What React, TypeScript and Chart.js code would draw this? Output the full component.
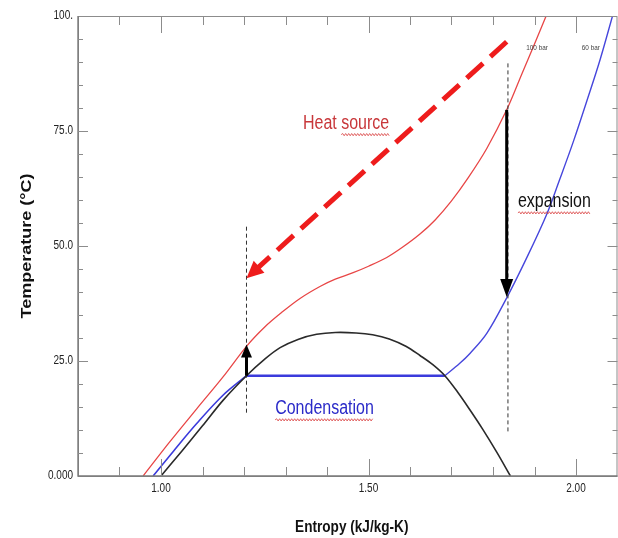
import React, { useEffect, useRef } from 'react';
import { Chart, registerables } from 'chart.js';

Chart.register(...registerables);

// ---- data (entropy kJ/kg-K, temperature °C) ----
const red100Entropy = [0.957, 1.02, 1.086, 1.15, 1.207, 1.25, 1.29, 1.335, 1.383, 1.42, 1.463, 1.5, 1.544, 1.58, 1.624, 1.66, 1.7, 1.74, 1.785, 1.833, 1.87, 1.9, 1.928];
const red100Temp = [0, 7.3, 14.6, 21.6, 28.3, 32.4, 35.5, 38.6, 41.2, 42.8, 44.2, 45.6, 47.5, 49.6, 52.6, 55.6, 59.8, 64.8, 71.2, 79.6, 87.5, 93.9, 100];

const blueLiquidEntropy = [0.981, 1.03, 1.086, 1.15, 1.206];
const blueLiquidTemp = [0, 5.4, 11.4, 17.6, 21.8];
const condensationEntropy = [1.206, 1.684];
const condensationTemp = [21.8, 21.8];
const blueVaporEntropy = [1.684, 1.72, 1.745, 1.785, 1.834, 1.88, 1.929, 1.96, 1.994, 2.03, 2.058, 2.088];
const blueVaporTemp = [21.8, 24.5, 26.7, 31.0, 38.9, 47.2, 56.8, 64.3, 72.8, 82.6, 90.5, 100];

const domeEntropy = [1.0, 1.05, 1.1, 1.15, 1.206, 1.25, 1.287, 1.33, 1.375, 1.42, 1.47, 1.51, 1.55, 1.59, 1.624, 1.655, 1.684, 1.715, 1.745, 1.775, 1.809, 1.842];
const domeTemp = [0, 5.4, 10.9, 16.5, 21.8, 25.4, 27.9, 29.7, 30.8, 31.2, 31.1, 30.7, 29.8, 28.2, 26.2, 24.2, 21.8, 18.2, 14.3, 10.2, 5.2, 0];

const leftGuideEntropy = [1.206, 1.206];
const leftGuideTemp = [54.2, 13.3];
const rightGuideEntropy = [1.836, 1.836];
const rightGuideTemp = [89.7, 9.3];

// arrows: [start, end]
const heatArrowEntropy = [1.833, 1.206];
const heatArrowTemp = [94.4, 43.0];
const upArrowEntropy = [1.206, 1.206];
const upArrowTemp = [21.8, 28.6];
const downArrowEntropy = [1.833, 1.833];
const downArrowTemp = [79.6, 38.9];

// ticks
const xMinorTicks = [0.9, 1.0, 1.1, 1.2, 1.3, 1.4, 1.5, 1.6, 1.7, 1.8, 1.9, 2.0];
const xMajorTicks = [1.0, 1.5, 2.0];
const xTickLabels = ['1.00', '1.50', '2.00'];
const yMinorTicks = [5, 10, 15, 20, 25, 30, 35, 40, 45, 50, 55, 60, 65, 70, 75, 80, 85, 90, 95];
const yMajorTicks = [0, 25, 50, 75, 100];
const yTickLabels = ['0.000', '25.0', '50.0', '75.0', '100.'];

// annotations
const noteLabels = ['Heat source', 'expansion', 'Condensation', '100 bar', '60 bar'];
const noteEntropy = [1.342, 1.86, 1.275, 1.88, 2.014];
const noteTemp = [76.6, 59.6, 14.6, 93.0, 93.0];

const toXY = (xs: number[], ys: number[]) => xs.map((v, i) => ({ x: v, y: ys[i] }));

const SX = 0.8;
const FONT = '"Liberation Sans", Arial, sans-serif';

function drawText(ctx: CanvasRenderingContext2D, text: string, x: number, y: number, font: string, color: string, align: CanvasTextAlign, rotate = 0) {
  ctx.save();
  ctx.translate(x, y);
  ctx.scale(SX, 1);
  if (rotate) ctx.rotate(rotate);
  ctx.font = font;
  ctx.fillStyle = color;
  ctx.textAlign = align;
  ctx.textBaseline = 'middle';
  ctx.fillText(text, 0, 0);
  ctx.restore();
}

function measure(ctx: CanvasRenderingContext2D, text: string, font: string) {
  ctx.save();
  ctx.font = font;
  const w = ctx.measureText(text).width * SX;
  ctx.restore();
  return w;
}

function wavy(ctx: CanvasRenderingContext2D, x0: number, x1: number, y: number) {
  ctx.save();
  ctx.strokeStyle = '#d83a3a';
  ctx.lineWidth = 0.8;
  ctx.beginPath();
  ctx.moveTo(x0, y);
  let up = true;
  for (let x = x0 + 1.5; x <= x1; x += 1.5) {
    ctx.lineTo(x, y + (up ? -1.1 : 1.1));
    up = !up;
  }
  ctx.stroke();
  ctx.restore();
}

function arrow(ctx: CanvasRenderingContext2D, x1: number, y1: number, x2: number, y2: number, color: string, width: number, headLen: number, headW: number, dash: number[] = []) {
  const ang = Math.atan2(y2 - y1, x2 - x1);
  const c = Math.cos(ang), s = Math.sin(ang);
  const bx = x2 - headLen * c, by = y2 - headLen * s;
  ctx.save();
  ctx.strokeStyle = color;
  ctx.lineWidth = width;
  ctx.lineCap = 'butt';
  ctx.setLineDash(dash);
  ctx.beginPath();
  ctx.moveTo(x1, y1);
  ctx.lineTo(bx + 1 * c, by + 1 * s);
  ctx.stroke();
  ctx.setLineDash([]);
  ctx.fillStyle = color;
  ctx.beginPath();
  ctx.moveTo(x2, y2);
  ctx.lineTo(bx + (headW / 2) * s, by - (headW / 2) * c);
  ctx.lineTo(bx - (headW / 2) * s, by + (headW / 2) * c);
  ctx.closePath();
  ctx.fill();
  ctx.restore();
}

const overlayPlugin = {
  id: 'tsOverlay',
  beforeDraw(chart: any) {
    const { ctx, width, height } = chart;
    ctx.save();
    ctx.fillStyle = '#ffffff';
    ctx.fillRect(0, 0, width, height);
    ctx.restore();
  },
  afterDatasetsDraw(chart: any) {
    const { ctx, chartArea: a } = chart;
    const xs = chart.scales.x;
    const ys = chart.scales.y;
    const px = (v: number) => xs.getPixelForValue(v);
    const py = (v: number) => ys.getPixelForValue(v);

    // frame
    ctx.save();
    ctx.strokeStyle = '#8c8c8c';
    ctx.lineWidth = 1;
    ctx.strokeRect(a.left + 0.5, a.top + 0.5, a.right - a.left - 1, a.bottom - a.top);
    ctx.strokeStyle = '#7a7a7a';
    ctx.lineWidth = 1.4;
    ctx.beginPath();
    ctx.moveTo(a.left, a.top);
    ctx.lineTo(a.left, a.bottom);
    ctx.lineTo(a.right, a.bottom);
    ctx.stroke();

    // ticks
    ctx.strokeStyle = '#8c8c8c';
    ctx.lineWidth = 1;
    ctx.beginPath();
    xMinorTicks.forEach((v) => {
      const X = Math.round(px(v)) + 0.5;
      const len = xMajorTicks.includes(v) ? 17 : 9;
      ctx.moveTo(X, a.bottom);
      ctx.lineTo(X, a.bottom - len);
      ctx.moveTo(X, a.top);
      ctx.lineTo(X, a.top + len);
    });
    yMinorTicks.forEach((v) => {
      const Y = Math.round(py(v)) + 0.5;
      const len = yMajorTicks.includes(v) ? 10 : 5;
      ctx.moveTo(a.left, Y);
      ctx.lineTo(a.left + len, Y);
      ctx.moveTo(a.right, Y);
      ctx.lineTo(a.right - len, Y);
    });
    ctx.stroke();
    ctx.restore();

    // tick labels
    const tickFont = `12.5px ${FONT}`;
    xMajorTicks.forEach((v, i) => drawText(ctx, xTickLabels[i], px(v), a.bottom + 13, tickFont, '#222222', 'center'));
    yMajorTicks.forEach((v, i) => drawText(ctx, yTickLabels[i], a.left - 5, py(v), tickFont, '#222222', 'right'));

    // axis titles
    const titleFont = `bold 17px ${FONT}`;
    drawText(ctx, 'Entropy (kJ/kg-K)', (a.left + a.right) / 2 + 4, 527, titleFont, '#111111', 'center');
    drawText(ctx, 'Temperature (°C)', 27, (a.top + a.bottom) / 2, `bold 18px ${FONT}`, '#111111', 'center', -Math.PI / 2);

    // annotations
    const noteFont = `20px ${FONT}`;
    const smallFont = `8px ${FONT}`;
    const noteColors = ['#c8373a', '#111111', '#2a2ac8', '#444444', '#444444'];
    noteLabels.forEach((t, i) => {
      const X = px(noteEntropy[i]);
      const Y = py(noteTemp[i]);
      const f = i < 3 ? noteFont : smallFont;
      drawText(ctx, t, X, Y, f, noteColors[i], 'left');
      if (i === 0) {
        const off = measure(ctx, 'Heat ', f);
        const w = measure(ctx, 'source', f);
        wavy(ctx, X + off, X + off + w, Y + 11);
      } else if (i < 3) {
        wavy(ctx, X, X + measure(ctx, t, f), Y + 11);
      }
    });

    // arrows
    arrow(ctx, px(downArrowEntropy[0]), py(downArrowTemp[0]), px(downArrowEntropy[1]), py(downArrowTemp[1]), '#000000', 3, 18, 13);
    arrow(ctx, px(upArrowEntropy[0]), py(upArrowTemp[0]), px(upArrowEntropy[1]), py(upArrowTemp[1]), '#000000', 3, 13, 11);
    arrow(ctx, px(heatArrowEntropy[0]), py(heatArrowTemp[0]), px(heatArrowEntropy[1]), py(heatArrowTemp[1]), '#ee1c1c', 5, 17, 16, [22, 10]);
  },
};

export default function App() {
  const canvasRef = useRef<HTMLCanvasElement | null>(null);

  useEffect(() => {
    const canvas = canvasRef.current;
    if (!canvas) return;
    const line = (data: any, color: string, width: number, extra: any = {}) => ({
      data,
      showLine: true,
      borderColor: color,
      backgroundColor: color,
      borderWidth: width,
      pointRadius: 0,
      pointHoverRadius: 0,
      fill: false,
      tension: 0.35,
      ...extra,
    });
    const chart = new Chart(canvas, {
      type: 'scatter',
      data: {
        datasets: [
          line(toXY(leftGuideEntropy, leftGuideTemp), '#333333', 1, { borderDash: [4, 3], tension: 0 }),
          line(toXY(rightGuideEntropy, rightGuideTemp), '#333333', 1, { borderDash: [4, 3], tension: 0 }),
          line(toXY(domeEntropy, domeTemp), '#2a2a2a', 1.6),
          line(toXY(blueLiquidEntropy, blueLiquidTemp), '#3b3bdc', 1.6),
          line(toXY(condensationEntropy, condensationTemp), '#3b3bdc', 2.6, { tension: 0 }),
          line(toXY(blueVaporEntropy, blueVaporTemp), '#4646dc', 1.4),
          line(toXY(red100Entropy, red100Temp), '#e84646', 1.3),
        ],
      },
      options: {
        responsive: false,
        animation: false,
        devicePixelRatio: 1,
        layout: { padding: { left: 78, right: 0.5, top: 16, bottom: 62 } },
        scales: {
          x: { type: 'linear', min: 0.8, max: 2.1, display: false },
          y: { type: 'linear', min: 0, max: 100, display: false },
        },
        plugins: {
          legend: { display: false },
          tooltip: { enabled: false },
        },
        events: [],
      },
      plugins: [overlayPlugin],
    } as any);
    return () => chart.destroy();
  }, []);

  return (
    <div style={{ position: 'absolute', left: 0, top: 0, width: 618, height: 538, background: '#fff' }}>
      <canvas ref={canvasRef} width={618} height={538} style={{ display: 'block', width: 618, height: 538 }} />
    </div>
  );
}
